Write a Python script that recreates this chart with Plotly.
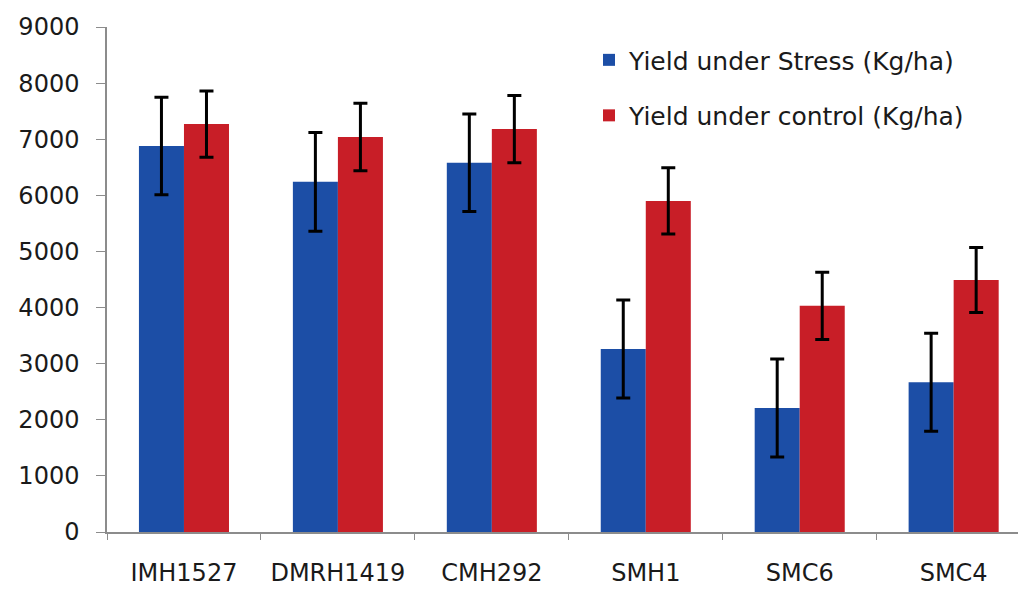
import plotly.graph_objects as go

categories = ["IMH1527", "DMRH1419", "CMH292", "SMH1", "SMC6", "SMC4"]
stress = [6880, 6240, 6580, 3260, 2210, 2670]
stress_err = [870, 880, 870, 873, 873, 873]
control = [7270, 7040, 7180, 5900, 4030, 4490]
control_err = [590, 600, 600, 590, 600, 580]
y_ticks = [0, 1000, 2000, 3000, 4000, 5000, 6000, 7000, 8000, 9000]

FONT = "DejaVu Sans"

fig = go.Figure()
fig.add_trace(go.Bar(
    x=categories, y=stress, name="Yield under Stress (Kg/ha)", legendgroup="a",
    marker=dict(color="#1c4ea6", line=dict(width=0)),
    error_y=dict(type="data", array=stress_err, color="#000000", thickness=3, width=7),
))
fig.add_trace(go.Bar(
    x=categories, y=control, name="Yield under control (Kg/ha)", legendgroup="b",
    marker=dict(color="#c81e27", line=dict(width=0)),
    error_y=dict(type="data", array=control_err, color="#000000", thickness=3, width=7),
))

fig.update_layout(
    width=1018, height=581,
    margin=dict(l=99, r=0, t=19, b=57),
    paper_bgcolor="#ffffff", plot_bgcolor="#ffffff",
    barmode="group", bargap=0.415, bargroupgap=0,
    font=dict(family=FONT, size=24, color="#1a1a1a"),
    showlegend=True,
    legend=dict(
        x=0.5245, y=0.98, xanchor="left", yanchor="top",
        font=dict(family=FONT, size=25, color="#1a1a1a"),
        bgcolor="rgba(0,0,0,0)", tracegroupgap=20, traceorder="grouped",
        itemwidth=30,
    ),
    xaxis=dict(
        range=[-0.5, 5.47],
        showline=True, linecolor="#8c8c8c", linewidth=1.5,
        ticks="outside", tickson="boundaries", ticklen=6, tickcolor="#8c8c8c",
        tickfont=dict(family=FONT, size=24, color="#1a1a1a"),
        ticklabelstandoff=18,
        showgrid=False,
    ),
    yaxis=dict(
        range=[0, 9000], tickvals=y_ticks,
        showline=True, linecolor="#8c8c8c", linewidth=1.5,
        ticks="outside", ticklen=9, tickcolor="#8c8c8c",
        tickfont=dict(family=FONT, size=24, color="#1a1a1a"),
        ticklabelstandoff=12,
        showgrid=False, zeroline=False,
    ),
)

fig.write_html("out.html")
